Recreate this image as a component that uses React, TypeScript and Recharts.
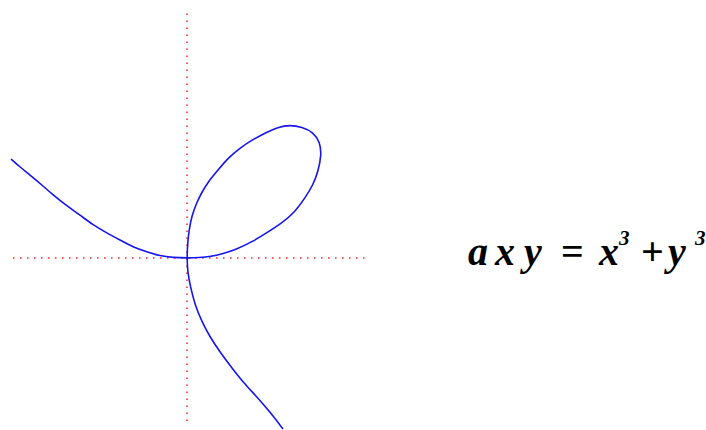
import { Line, LineChart, ReferenceLine, XAxis, YAxis } from "recharts";

// folium of Descartes (origin at the axis crossing, y up)
const leftBranch = [
  { x: -176, y: 99 }, { x: -167, y: 91 }, { x: -157, y: 83 }, { x: -145, y: 73 },
  { x: -134, y: 63 }, { x: -120, y: 52 }, { x: -107, y: 43 }, { x: -94, y: 33 },
  { x: -80, y: 25 }, { x: -67, y: 18 }, { x: -54, y: 11 }, { x: -40, y: 6 },
  { x: -27, y: 2 }, { x: -14, y: 0.5 }, { x: 0, y: 0 },
];

const loop = [
  { x: 12, y: 0.3 }, { x: 24, y: 1.5 }, { x: 36, y: 4.5 }, { x: 48, y: 8 },
  { x: 65, y: 16 }, { x: 81, y: 26 }, { x: 95, y: 35 }, { x: 108, y: 46 },
  { x: 118, y: 60 }, { x: 126, y: 73 }, { x: 131, y: 86 }, { x: 134.5, y: 103 },
  { x: 133, y: 116 }, { x: 126, y: 126 }, { x: 115, y: 131 }, { x: 103, y: 133 },
  { x: 91, y: 131 }, { x: 78, y: 125 }, { x: 65, y: 118 }, { x: 53, y: 110 },
  { x: 41, y: 100 }, { x: 31, y: 88 }, { x: 21, y: 76 }, { x: 15, y: 66 },
  { x: 10, y: 56 }, { x: 5, y: 43 }, { x: 2, y: 28 }, { x: 0.5, y: 13 }, { x: 0, y: 0 },
];

const bottomBranch = [
  { x: 0.6, y: -14 }, { x: 3.7, y: -30 }, { x: 8, y: -47 },
  { x: 15, y: -64 }, { x: 23, y: -79 }, { x: 33, y: -94 }, { x: 45, y: -110 },
  { x: 56, y: -124 }, { x: 70, y: -139 }, { x: 83, y: -154 }, { x: 96, y: -171 },
];

const curve = [...leftBranch, ...loop, ...bottomBranch];

const xAxisSpan = [-174, 179];
const yAxisSpan = [-163, 248];

const serif = "Liberation Serif";

export default function App() {
  return (
    <div style={{ position: "absolute", left: 0, top: 0, width: 706, height: 430, background: "#fff" }}>
      <LineChart
        width={706}
        height={430}
        data={curve}
        margin={{ top: 0, right: 0, bottom: 0, left: 0 }}
      >
        <XAxis type="number" dataKey="x" domain={[-187, 519]} hide allowDataOverflow />
        <YAxis type="number" domain={[-172, 258]} hide allowDataOverflow />
        <ReferenceLine
          segment={[{ x: xAxisSpan[0], y: 0 }, { x: xAxisSpan[1], y: 0 }]}
          stroke="#f22"
          strokeWidth={1.5}
          strokeDasharray="1.5 5.5"
        />
        <ReferenceLine
          segment={[{ x: 0, y: yAxisSpan[0] }, { x: 0, y: yAxisSpan[1] }]}
          stroke="#f22"
          strokeWidth={1.5}
          strokeDasharray="1.5 5.5"
        />
        <Line
          type="basis"
          dataKey="y"
          stroke="#1515ee"
          strokeWidth={1.6}
          dot={false}
          activeDot={false}
          isAnimationActive={false}
        />
      </LineChart>
      <svg
        width={706}
        height={430}
        style={{ position: "absolute", left: 0, top: 0, pointerEvents: "none" }}
        fontFamily={serif}
        fontWeight="bold"
        fontStyle="italic"
        fill="#000"
      >
        <text x={468} y={265} fontSize={40}>a</text>
        <text x={495} y={265} fontSize={40}>x</text>
        <text x={524} y={265} fontSize={40}>y</text>
        <text x={561} y={265} fontSize={40} fontStyle="normal">=</text>
        <text x={599} y={265} fontSize={40}>x</text>
        <text x={619} y={245} fontSize={21}>3</text>
        <text x={641} y={265} fontSize={40} fontStyle="normal">+</text>
        <text x={668} y={265} fontSize={40}>y</text>
        <text x={695} y={245} fontSize={21}>3</text>
      </svg>
    </div>
  );
}
